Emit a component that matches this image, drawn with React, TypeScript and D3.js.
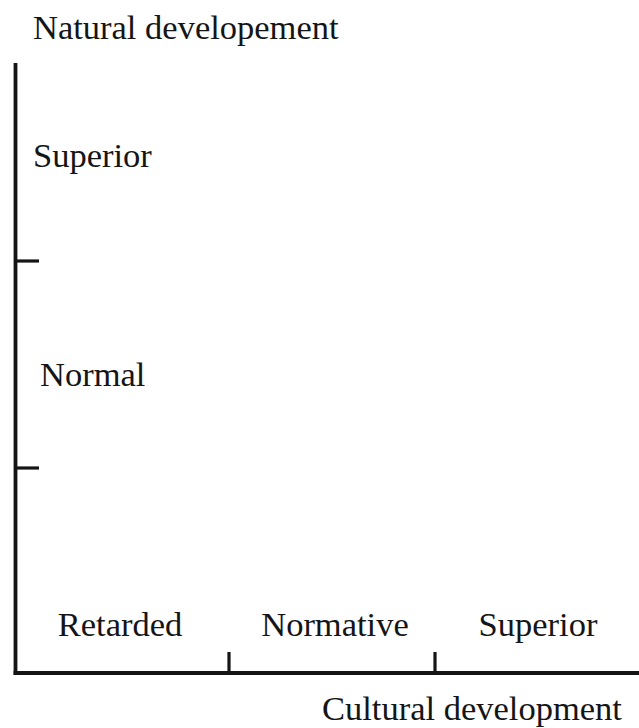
import React from "react";
import * as d3 from "d3";

const xCategories = ["Retarded", "Normative", "Superior"];
const yCategories = ["", "Normal", "Superior"];
const xTickValues = [1, 2];
const yTickValues = [1, 2];
const xTitle = "Cultural development";
const yTitle = "Natural developement";

const W = 639;
const H = 728;
const FONT = "'Liberation Serif', 'Times New Roman', serif";
const FS = 34.5;
const INK = "#151515";

export default function App() {
  const x = d3.scaleLinear().domain([0, 3]).range([23, 641]);
  const y = d3.scaleLinear().domain([0, 3]).range([675, 54]);
  const axisY = 673;
  const axisX = 15.5;
  const yTop = 63;

  const xLabelShift = [-6, 3, 0];
  const yLabelX = [0, 40, 33];
  const yLabelShift = [0, 9, -3];

  return (
    <svg
      width={W}
      height={H}
      style={{ position: "absolute", left: 0, top: 0, background: "#fff" }}
      fontFamily={FONT}
    >
      <rect x={0} y={0} width={W} height={H} fill="#fff" />
      {/* y axis */}
      <line x1={axisX} x2={axisX} y1={yTop} y2={axisY + 2} stroke={INK} strokeWidth={3.8} />
      {/* x axis */}
      <line x1={13.6} x2={W} y1={axisY} y2={axisY} stroke={INK} strokeWidth={4} />
      {yTickValues.map((v) => (
        <line key={"yt" + v} x1={axisX} x2={39} y1={y(v)} y2={y(v)} stroke={INK} strokeWidth={3.2} />
      ))}
      {xTickValues.map((v) => (
        <line key={"xt" + v} x1={x(v)} x2={x(v)} y1={652} y2={axisY} stroke={INK} strokeWidth={3.2} />
      ))}
      {xCategories.map((c, i) => (
        <text
          key={"xl" + c}
          x={x(i + 0.5) + xLabelShift[i]}
          y={636}
          textAnchor="middle"
          fontSize={FS}
          fill={INK}
        >
          {c}
        </text>
      ))}
      {yCategories.map((c, i) =>
        c ? (
          <text
            key={"yl" + i}
            x={yLabelX[i]}
            y={y(i + 0.5) + 12 + yLabelShift[i]}
            textAnchor="start"
            fontSize={FS}
            fill={INK}
          >
            {c}
          </text>
        ) : null
      )}
      <text x={33} y={39} fontSize={FS} fill={INK}>
        {yTitle}
      </text>
      <text x={322} y={720} fontSize={FS} fill={INK}>
        {xTitle}
      </text>
    </svg>
  );
}
